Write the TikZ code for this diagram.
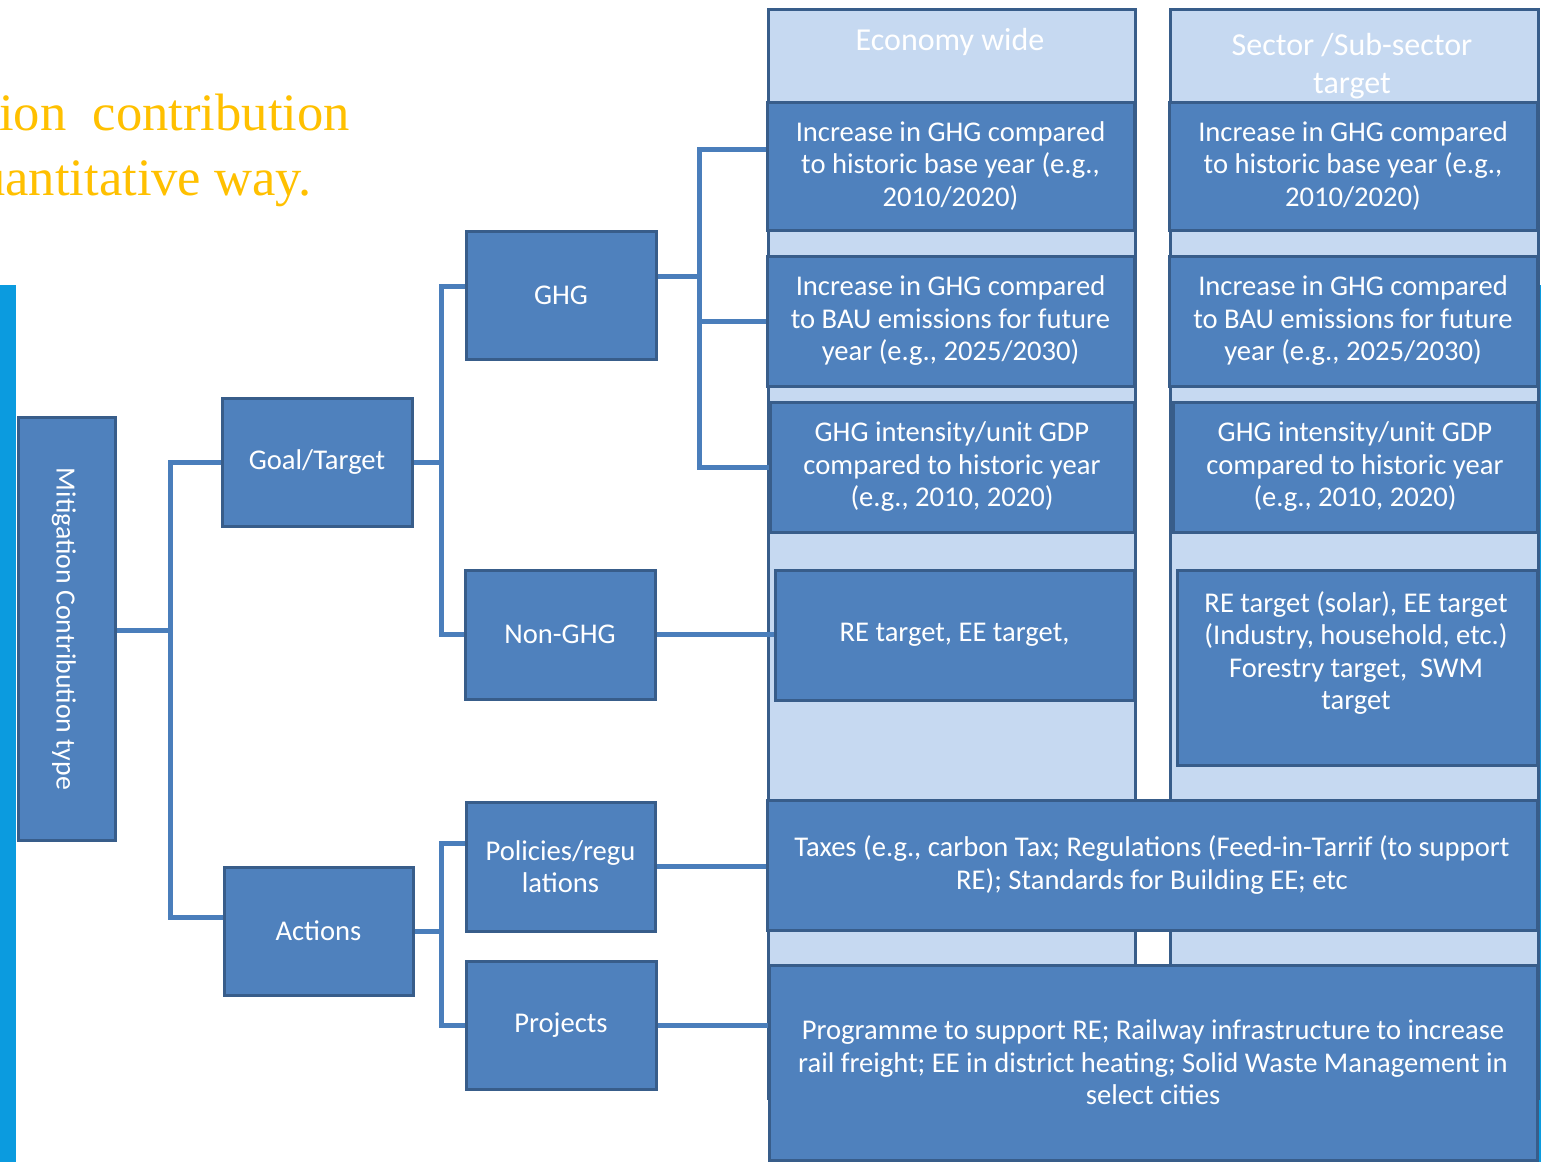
\documentclass[tikz,border=0pt]{standalone}
\usepackage{fontspec}
\setmainfont{Carlito}
\newfontfamily\serifttl{Liberation Serif}
\usetikzlibrary{calc}
\definecolor{dfill}{HTML}{4F81BD}
\definecolor{dline}{HTML}{385D8A}
\definecolor{lfill}{HTML}{C6D9F1}
\definecolor{conc}{HTML}{4A7EBB}
\definecolor{cyanbar}{HTML}{0B9BDF}
\definecolor{ttlc}{HTML}{FFC000}
\newcommand\mybox{\fontsize{28.6}{32.5}\selectfont}
\newcommand\mymct{\fontsize{27.8}{32.5}\selectfont}
\newcommand\myhdr{\fontsize{32}{38}\selectfont}
\newcommand\myttl{\serifttl\fontsize{52.6}{65}\selectfont}
\begin{document}
\begin{tikzpicture}[x=1pt,y=-1pt,
 dbox/.style={draw=dline, fill=dfill, line width=3pt, text=white, align=center, font=\mybox, inner sep=0pt},
 lcol/.style={draw=dline, fill=lfill, line width=3pt, inner sep=0pt, anchor=north west},
 conn/.style={draw=conc, line width=5pt},
 txt/.style={text=white, align=center, font=\mybox, inner sep=0pt},
 hdr/.style={text=white, align=center, font=\myhdr, inner sep=0pt},
 ttl/.style={anchor=base east, text=ttlc, font=\myttl, inner sep=0pt}]
\useasboundingbox (0,0) rectangle (1541,1162);
\clip (0,0) rectangle (1541,1162);

% side bars
\fill[cyanbar] (0,285) rectangle (16,1162);
\fill[cyanbar] (1539,285) rectangle (1541,1162);

% title fragments
\node[ttl] (t1) at (350,130) {ion\ \ contribution};
\node[ttl] (t2) at (312,195) {uantitative way.};

% columns
\node[lcol, minimum width=367pt, minimum height=1089pt] (col1) at (767,8) {};
\node[lcol, minimum width=368pt, minimum height=1089pt] (col2) at (1169,8) {};
\node[hdr] (h1) at (950,42) {Economy wide};
\node[hdr] (h2) at (1352,66) {Sector /Sub-sector\\target};

% column boxes
\node[dbox, minimum width=367pt, minimum height=128pt] (a1) at (950.5,166) {Increase in GHG compared\\to historic base year (e.g.,\\2010/2020)};
\node[dbox, minimum width=367pt, minimum height=130pt] (a2) at (950.5,321) {Increase in GHG compared\\to BAU emissions for future\\year (e.g., 2025/2030)};
\node[dbox, minimum width=364pt, minimum height=130pt] (a3) at (952,467) {GHG intensity/unit GDP\\compared to historic year\\(e.g., 2010, 2020)};
\node[dbox, minimum width=359pt, minimum height=130pt] (a4) at (954.5,635) {RE target, EE target,};

\node[dbox, minimum width=368pt, minimum height=128pt] (b1) at (1353,166) {Increase in GHG compared\\to historic base year (e.g.,\\2010/2020)};
\node[dbox, minimum width=368pt, minimum height=130pt] (b2) at (1353,321) {Increase in GHG compared\\to BAU emissions for future\\year (e.g., 2025/2030)};
\node[dbox, minimum width=364pt, minimum height=130pt] (b3) at (1355,467) {GHG intensity/unit GDP\\compared to historic year\\(e.g., 2010, 2020)};
\node[dbox, minimum width=360pt, minimum height=195pt] (b4) at (1357,667.5) {};
\node[txt] (b4t) at (1356,653) {RE target (solar), EE target\\(Industry, household, etc.)\\Forestry target,\ \ SWM\\target};

% wide boxes
\node[dbox, minimum width=770pt, minimum height=130pt] (w1) at (1152,865) {Taxes (e.g., carbon Tax; Regulations (Feed-in-Tarrif (to support\\RE); Standards for Building EE; etc};
\node[dbox, minimum width=768pt, minimum height=195pt] (w2) at (1153,1062.5) {Programme to support RE; Railway infrastructure to increase\\rail freight; EE in district heating; Solid Waste Management in\\select cities};

% hierarchy boxes
\node[dbox, minimum width=97pt, minimum height=423pt] (mct) at (66.5,628.5) {};
\node[txt, font=\mymct, rotate=-90] (mctt) at (64,629) {Mitigation Contribution type};
\node[dbox, minimum width=190pt, minimum height=128pt] (goal) at (317,462) {Goal/Target};
\node[dbox, minimum width=189pt, minimum height=128pt] (act) at (318.5,931) {Actions};
\node[dbox, minimum width=190pt, minimum height=128pt] (ghg) at (561,295) {GHG};
\node[dbox, minimum width=190pt, minimum height=129pt] (ngh) at (560,634.5) {Non-GHG};
\node[dbox, minimum width=189pt, minimum height=129pt] (pol) at (560.5,866.5) {Policies/regu\\lations};
\node[dbox, minimum width=190pt, minimum height=128pt] (prj) at (561,1025) {Projects};

% connectors
\coordinate (j1) at (170,630);
\coordinate (j2) at (441,0);
\coordinate (j3) at (699,0);
\coordinate (aw) at ([yshift=14pt]act.west);
\coordinate (gw) at ([yshift=9pt]ghg.west);
\coordinate (pw) at ([yshift=23pt]pol.west);
\coordinate (ge) at ([yshift=19pt]ghg.east);
\coordinate (a1w) at ([yshift=17pt]a1.west);

\draw[conn] (mct.east |- j1) -- (j1);
\draw[conn] (goal.west) -- (goal.west -| j1) -- (aw -| j1) -- (aw);
\draw[conn] (goal.east) -- (goal.east -| j2);
\draw[conn] (gw) -- (gw -| j2) -- (ngh.west -| j2) -- (ngh.west);
\draw[conn] (act.east) -- (act.east -| j2);
\draw[conn] (pw) -- (pw -| j2) -- (prj.west -| j2) -- (prj.west);
\draw[conn] (ge) -- (ge -| j3);
\draw[conn] (a1w) -- (a1w -| j3) -- (a3.west -| j3) -- (a3.west);
\draw[conn] (a2.west) -- (a2.west -| j3);
\draw[conn] (ngh.east) -- (ngh.east -| a4.west);
\draw[conn] (pol.east) -- (pol.east -| w1.west);
\draw[conn] (prj.east) -- (prj.east -| w2.west);
\end{tikzpicture}
\end{document}
